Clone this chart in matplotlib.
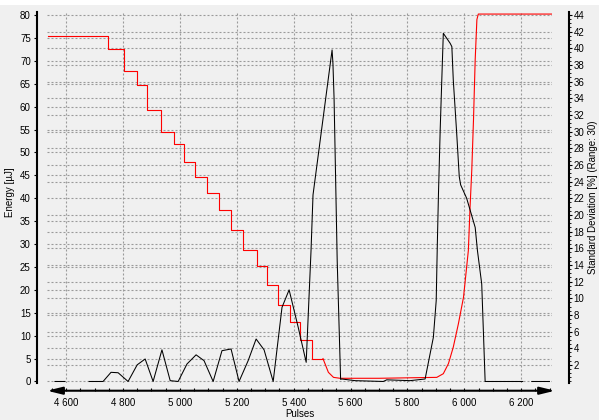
import numpy as np
import matplotlib
matplotlib.use('Agg')
import matplotlib.pyplot as plt
from matplotlib.ticker import FuncFormatter, MultipleLocator, FixedLocator

plt.rcParams['font.family'] = ['Liberation Sans', 'DejaVu Sans']
plt.rcParams['font.size'] = 7

# energy (left axis): stepped ramp down, then the rise at the end
energy_step_edges = [4537, 4748, 4804, 4851, 4886, 4934, 4980, 5015, 5053, 5097,
                     5138, 5180, 5222, 5271, 5307, 5345, 5387, 5423, 5465, 5503]
energy_step_levels = [75.4, 72.6, 67.8, 64.7, 59.2, 54.4, 51.8, 47.9, 44.7, 41.2,
                      37.5, 33.0, 28.8, 25.3, 21.0, 16.8, 13.0, 9.0, 5.0]
energy_tail_pulses = [5503, 5522, 5540, 5563, 5700, 5903, 5926, 5944, 5961, 5979,
                      5997, 6014, 6020, 6026, 6032, 6038, 6044, 6049, 6315]
energy_tail_values = [5.0, 2.0, 0.9, 0.7, 0.7, 0.9, 1.7, 3.9, 7.5, 12.6,
                      18.4, 28.6, 38.1, 46.1, 57.0, 70.2, 79.0, 80.2, 80.2]

# standard deviation (right axis), nan = gap in the trace
sd_pulses = [4561, 4596, 4640, 4681, 4730, 4758, 4783, 4818, 4850, 4878,
             4906, 4937, 4966, 4994, 5025, 5057, 5085, 5117, 5148, 5180,
             5208, 5240, 5268, 5296, 5328, 5359, 5384, 5416, 5444, 5461,
             5468, 5535, 5538, 5542, 5553, 5565, 5569, 5616, 5715, 5727,
             5809, 5862, 5891, 5901, 5905, 5909, 5915, 5921, 5926, 5950,
             5956, 5961, 5973, 5982, 5987, 6008, 6038, 6046, 6061, 6073,
             6205, 6220, 6237, 6299]
sd_values = [0.0, 0.0, np.nan, 0.0, 0.0, 1.1, 1.05, 0.0, 2.0, 2.7,
             0.0, 3.8, 0.1, 0.0, 2.1, 3.2, 2.5, 0.0, 3.7, 3.9,
             0.0, 2.5, 5.1, 3.8, 0.0, 8.9, 11.0, 6.5, 2.3, 15.7,
             22.4, 39.8, 38.2, 34.0, 14.5, 0.25, 0.3, 0.1, 0.0, 0.2,
             0.1, 0.3, 5.3, 9.7, 16.6, 22.6, 30.2, 36.6, 41.8, 40.6,
             40.2, 36.2, 29.8, 24.6, 23.6, 22.0, 18.5, 15.7, 11.7, 0.0,
             0.0, np.nan, 0.0, 0.0]

energy_ticks = np.arange(0, 81, 5)
sd_ticks = np.arange(2, 45, 2)
pulse_major = 200
pulse_minor = 50

BG = '#f0f0f0'
GRID = '#9a9a9a'
PX = 72 / 100  # points per pixel

fig = plt.figure(figsize=(5.99, 4.2), dpi=100, facecolor=BG)
fig.patches.append(plt.Rectangle((0, 1 - 5 / 420), 1, 5 / 420, transform=fig.transFigure,
                                 facecolor='white', edgecolor='none'))
ax = fig.add_axes([47 / 599, 37 / 420, 505 / 599, 371 / 420])
ax.set_facecolor(BG)
ax2 = ax.twinx()

ax.set_xlim(4533, 6308)
ax.set_ylim(-0.33, 80.65)
ax2.set_ylim(-0.33 * 44 / 80, 80.65 * 44 / 80)

# red energy trace
ax.step(energy_step_edges, energy_step_levels + [energy_step_levels[-1]], where='post',
        color='#ff0000', lw=0.8)
ax.plot(energy_tail_pulses, energy_tail_values, color='#ff0000', lw=0.8)

# black std dev trace
ax2.plot(sd_pulses, sd_values, color='black', lw=0.75)

# grid: left ticks as major, right ticks mapped in as minor
ax.set_axisbelow(True)
ax.yaxis.set_major_locator(FixedLocator(energy_ticks))
ax.yaxis.set_minor_locator(FixedLocator(np.arange(0, 45, 2) * 80 / 44))
ax.xaxis.set_major_locator(MultipleLocator(pulse_major))
ax.xaxis.set_minor_locator(MultipleLocator(pulse_minor))
grid_kw = dict(color=GRID, lw=0.8, dashes=(1.8, 1.8))
ax.grid(axis='y', which='major', **grid_kw)
ax.grid(axis='y', which='minor', **grid_kw)
ax.grid(axis='x', which='major', **grid_kw)
ax.tick_params(axis='y', which='minor', length=0)

ax2.yaxis.set_major_locator(FixedLocator(sd_ticks))
ax2.yaxis.set_minor_locator(MultipleLocator(0.5))

# spines
for s in ('top', 'right'):
    ax.spines[s].set_visible(False)
for s in ('top', 'left', 'bottom'):
    ax2.spines[s].set_visible(False)
ax.spines['left'].set_position(('outward', 10 * PX))
ax.spines['left'].set_linewidth(1.5)
ax2.spines['right'].set_position(('outward', 17 * PX))
ax2.spines['right'].set_linewidth(1.5)
ax.spines['bottom'].set_position(('outward', 7.7 * PX))
ax.spines['bottom'].set_visible(False)

ax.tick_params(axis='y', which='major', length=2, width=0.8, pad=2.5)
ax2.tick_params(axis='y', which='major', length=2.2, width=0.8, pad=1.2)
ax2.tick_params(axis='y', which='minor', length=1.2, width=0.6)
ax.tick_params(axis='x', which='both', direction='in', length=2.5, width=0.8, pad=5)

ax.xaxis.set_major_formatter(FuncFormatter(lambda v, p: f"{int(v):,}".replace(',', ' ')))

# double-headed x axis arrow
ax.annotate('', xy=(1.006, -0.0208), xytext=(0.0, -0.0208),
            xycoords='axes fraction', textcoords='axes fraction',
            arrowprops=dict(arrowstyle='<|-|>,head_length=0.9,head_width=0.22',
                            color='black', lw=1.5, shrinkA=0, shrinkB=0,
                            mutation_scale=10),
            annotation_clip=False)

ax.set_xlabel('Pulses')
ax.xaxis.set_label_coords(0.5, -0.07)
ax.set_ylabel('Energy [µJ]')
ax.yaxis.set_label_coords(-0.064, 0.515)
ax2.set_ylabel('Standard Deviation [%] (Range: 30)')
ax2.yaxis.set_label_coords(1.072, 0.5)

fig.savefig('out.png', dpi=100, facecolor=fig.get_facecolor())
